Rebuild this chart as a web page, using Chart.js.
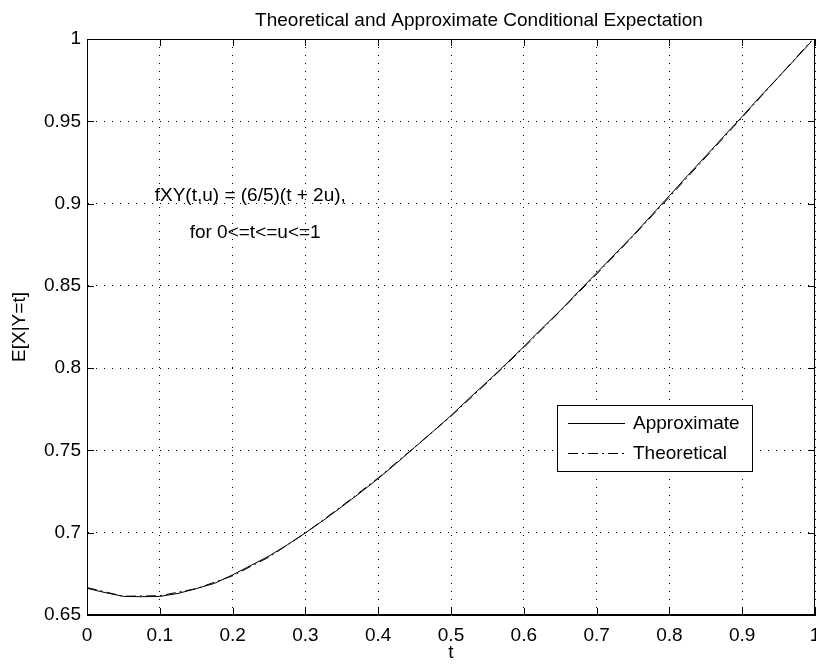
<!DOCTYPE html>
<html>
<head>
<meta charset="utf-8">
<script src="https://cdn.jsdelivr.net/npm/chart.js@4/dist/chart.umd.min.js"></script>
<style>
  html, body { margin: 0; padding: 0; background: #fff; }
  #wrap { width: 816px; height: 664px; }
</style>
</head>
<body>
<div id="wrap"><canvas id="cond-chart" width="816" height="664"></canvas></div>
<script>
// values
const approxT = [0, 0.025, 0.05, 0.075, 0.1, 0.125, 0.15, 0.175, 0.2, 0.225, 0.25, 0.275, 0.3, 0.325, 0.35, 0.375, 0.4, 0.425, 0.45, 0.475, 0.5, 0.525, 0.55, 0.575, 0.6, 0.625, 0.65, 0.675, 0.7, 0.725, 0.75, 0.775, 0.8, 0.825, 0.85, 0.875, 0.9, 0.925, 0.95, 0.975, 0.995];
const approxE = [0.6662, 0.6636, 0.6613, 0.6611, 0.6613, 0.6631, 0.6660, 0.6692, 0.6744, 0.6801, 0.6858, 0.6926, 0.6999, 0.7076, 0.7158, 0.7242, 0.7329, 0.7422, 0.7518, 0.7614, 0.7712, 0.7817, 0.7918, 0.8023, 0.8131, 0.8242, 0.8349, 0.8465, 0.8578, 0.8692, 0.8806, 0.8927, 0.9048, 0.9170, 0.9289, 0.9410, 0.9529, 0.9652, 0.9769, 0.9888, 0.9985];

const theoryT = [0, 0.05, 0.1, 0.15, 0.2, 0.25, 0.3, 0.35, 0.4, 0.45, 0.5, 0.55, 0.6, 0.65, 0.7, 0.75, 0.8, 0.85, 0.9, 0.95, 0.995];
const theoryE = [0.6667, 0.6614, 0.6617, 0.6660, 0.6738, 0.6852, 0.6998, 0.7162, 0.7333, 0.7520, 0.7708, 0.7913, 0.8125, 0.8346, 0.8571, 0.8801, 0.9040, 0.9282, 0.9524, 0.9769, 0.9990];

const xTicks = [0, 0.1, 0.2, 0.3, 0.4, 0.5, 0.6, 0.7, 0.8, 0.9, 1];
const yTicks = [0.65, 0.7, 0.75, 0.8, 0.85, 0.9, 0.95, 1];

const titleText = "Theoretical and Approximate Conditional Expectation";
const noteLines = ["fXY(t,u) = (6/5)(t + 2u),", "for 0<=t<=u<=1"];

const FONT = "'Liberation Sans', Arial, sans-serif";

// matlab-ish box, inner ticks, title, text and legend
const matlabBits = {
  id: "matlabBits",
  afterDraw(chart) {
    const c = chart.ctx;
    const a = chart.chartArea;
    const xs = chart.scales.x, ys = chart.scales.y;
    c.save();
    c.strokeStyle = "#000";
    c.lineWidth = 1;
    c.setLineDash([]);
    // box
    c.strokeRect(a.left + 0.5, a.top + 0.5, a.right - a.left - 1, a.bottom - a.top - 1);
    // inward ticks
    c.beginPath();
    xTicks.forEach(v => {
      const px = Math.round(xs.getPixelForValue(v)) + 0.5;
      c.moveTo(px, a.bottom); c.lineTo(px, a.bottom - 7);
      c.moveTo(px, a.top); c.lineTo(px, a.top + 7);
    });
    yTicks.forEach(v => {
      const py = Math.round(ys.getPixelForValue(v)) + 0.5;
      c.moveTo(a.left, py); c.lineTo(a.left + 7, py);
      c.moveTo(a.right, py); c.lineTo(a.right - 7, py);
    });
    c.stroke();

    // title
    c.fillStyle = "#000";
    c.font = "19px " + FONT;
    c.textAlign = "center";
    c.textBaseline = "alphabetic";
    c.fillText(titleText, 479, 26);

    // note text
    c.textAlign = "left";
    c.textBaseline = "middle";
    c.fillText(noteLines[0], xs.getPixelForValue(0.093), ys.getPixelForValue(0.9045));
    c.fillText(noteLines[1], xs.getPixelForValue(0.141), ys.getPixelForValue(0.8825));

    // legend
    const bx = a.right - 258, by = a.bottom - 210, bw = 195, bh = 66;
    c.fillStyle = "#fff";
    c.fillRect(bx, by, bw, bh);
    c.strokeRect(bx + 0.5, by + 0.5, bw, bh);
    chart.data.datasets.forEach((ds, i) => {
      const ly = by + 18 + i * 30;
      c.beginPath();
      c.setLineDash(ds.borderDash || []);
      c.moveTo(bx + 11, ly + 0.5);
      c.lineTo(bx + 68, ly + 0.5);
      c.stroke();
      c.setLineDash([]);
      c.fillStyle = "#000";
      c.fillText(ds.label, bx + 76, ly + 1);
    });
    c.restore();
  }
};

const ctx = document.getElementById("cond-chart");

new Chart(ctx, {
  type: "line",
  data: {
    datasets: [
      {
        label: "Approximate",
        data: approxT.map((t, i) => ({ x: t, y: approxE[i] })),
        borderColor: "#000",
        borderWidth: 1,
        pointRadius: 0,
        tension: 0
      },
      {
        label: "Theoretical",
        data: theoryT.map((t, i) => ({ x: t, y: theoryE[i] })),
        borderColor: "#000",
        borderWidth: 1,
        borderDash: [10, 4, 2, 4],
        pointRadius: 0,
        tension: 0
      }
    ]
  },
  options: {
    responsive: false,
    animation: false,
    layout: { autoPadding: false, padding: { top: 39, right: 1, left: 0, bottom: 0 } },
    plugins: {
      legend: { display: false },
      title: { display: false },
      tooltip: { enabled: false }
    },
    scales: {
      x: {
        type: "linear",
        min: 0,
        max: 1,
        afterBuildTicks: (s) => { s.ticks = xTicks.map(v => ({ value: v })); },
        afterFit: (s) => {
          s.height = 49;
          s.paddingLeft = 0;
          s.paddingRight = 0;
        },
        grid: { color: "#000", lineWidth: 1, drawTicks: false },
        border: { display: true, color: "#000", width: 1, dash: [1, 7] },
        ticks: {
          color: "#000",
          padding: 9,
          maxRotation: 0,
          font: { family: FONT, size: 19 },
          callback: (v) => String(Number(v.toFixed(2)))
        },
        title: {
          display: true,
          text: "t",
          color: "#000",
          padding: { top: 0, bottom: 0 },
          font: { family: FONT, size: 19 }
        }
      },
      y: {
        type: "linear",
        min: 0.65,
        max: 1,
        afterBuildTicks: (s) => { s.ticks = yTicks.map(v => ({ value: v })); },
        afterFit: (s) => {
          s.width = 87;
          s.paddingTop = 0;
          s.paddingBottom = 0;
        },
        grid: { color: "#000", lineWidth: 1, drawTicks: false },
        border: { display: true, color: "#000", width: 1, dash: [1, 7] },
        ticks: {
          color: "#000",
          padding: 6,
          font: { family: FONT, size: 19 },
          callback: (v) => String(Number(v.toFixed(2)))
        },
        title: {
          display: true,
          text: "E[X|Y=t]",
          color: "#000",
          padding: { top: 8, bottom: 0 },
          font: { family: FONT, size: 19 }
        }
      }
    }
  },
  plugins: [matlabBits]
});
</script>
</body>
</html>
